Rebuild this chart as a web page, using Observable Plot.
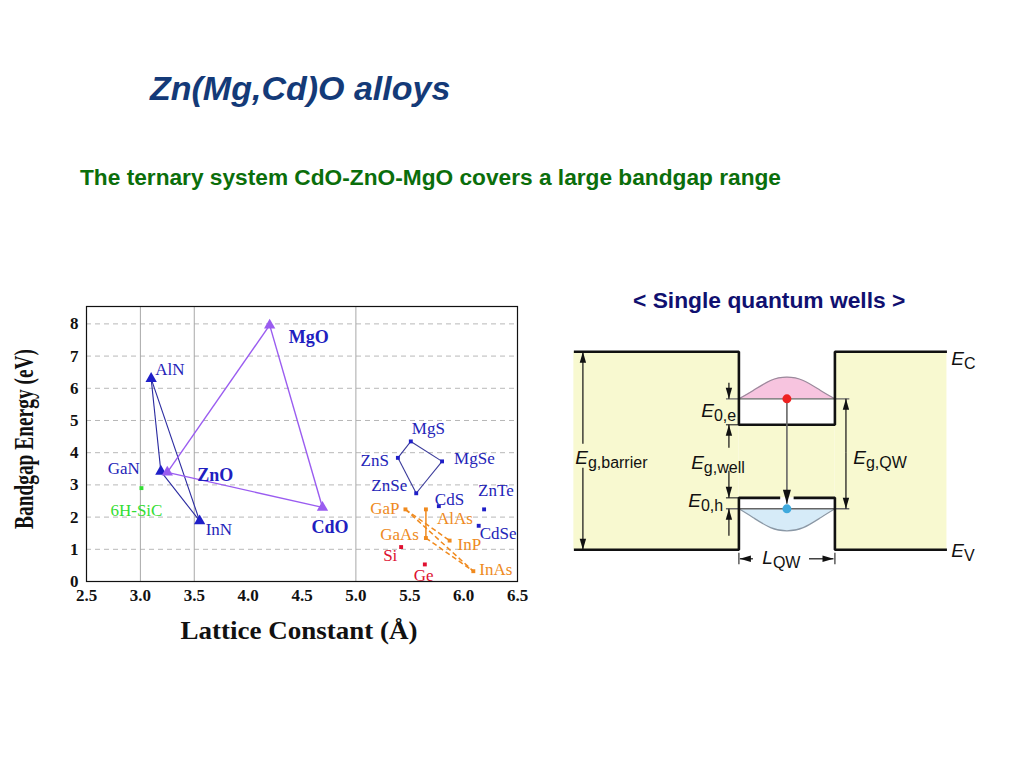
<!DOCTYPE html>
<html><head><meta charset="utf-8">
<script src="https://cdn.jsdelivr.net/npm/d3@7"></script>
<script src="https://cdn.jsdelivr.net/npm/@observablehq/plot@0.6"></script>
<style>
body{margin:0;background:#fff;width:1024px;height:768px;position:relative;overflow:hidden;font-family:"Liberation Sans",Arial,sans-serif}
.abs{position:absolute;white-space:nowrap;line-height:1}
#title{left:150px;top:71px;font-size:34px;font-weight:bold;font-style:italic;color:#143a78}
#subtitle{left:80px;top:166px;font-size:22.7px;font-weight:bold;color:#0b6e0b}
#qwtitle{left:633px;top:288.5px;font-size:22.8px;font-weight:bold;color:#101070}
#chart{left:0;top:290px}
#qw{left:556px;top:322px}
svg{overflow:visible}
</style></head><body>
<div class="abs" id="title">Zn(Mg,Cd)O alloys</div>
<div class="abs" id="subtitle">The ternary system CdO-ZnO-MgO covers a large bandgap range</div>
<div class="abs" id="qwtitle">&lt; Single quantum wells &gt;</div>
<div class="abs" id="chart"></div>
<div class="abs" id="qw"></div>
<script>
// ---------- Bandgap vs lattice constant data ----------
const materials = ["AlN","GaN","InN","ZnO","MgO","CdO","6H-SiC","MgS","ZnS","MgSe","ZnSe","CdS","ZnTe","CdSe","GaP","AlAs","GaAs","InP","InAs","Si","Ge"];
const latticeConstant = [3.10,3.19,3.55,3.25,4.20,4.69,3.01,5.51,5.39,5.80,5.56,5.77,6.19,6.14,5.46,5.65,5.65,5.87,6.09,5.42,5.64];
const bandgap = [6.30,3.42,1.88,3.39,7.96,2.30,2.90,4.35,3.84,3.73,2.74,2.34,2.24,1.73,2.24,2.24,1.35,1.27,0.32,1.07,0.53];
const family = ["nitride","nitride","nitride","oxide","oxide","oxide","SiC","II-VI","II-VI","II-VI","II-VI","II-VI","II-VI","II-VI","III-V","III-V","III-V","III-V","III-V","IV","IV"];
const xTicks = [2.5,3.0,3.5,4.0,4.5,5.0,5.5,6.0,6.5];
const yTicks = [0,1,2,3,4,5,6,7,8];
const xTitle = "Lattice Constant (Å)";
const yTitle = "Bandgap Energy (eV)";

const nitrideEdges = [["AlN","GaN"],["GaN","InN"],["InN","AlN"]];
const oxideEdges = [["ZnO","MgO"],["MgO","CdO"],["CdO","ZnO"]];
const chalcogenideEdges = [["ZnS","MgS"],["MgS","MgSe"],["MgSe","ZnSe"],["ZnSe","ZnS"]];
const arsenideSolidEdges = [["AlAs","GaAs"]];
const iiiVDashedEdges = [["GaP","InP"],["GaP","InAs"],["GaAs","InAs"]];

// styles
const familyStyle = {
  "nitride": {color:"#1f1fc8", text:"#2424b8", symbol:"triangle", r:4.2},
  "oxide":   {color:"#9a5cf0", text:"#2020c0", symbol:"triangle", r:4.2},
  "SiC":     {color:"#33dd33", text:"#33dd33", symbol:"square", r:2.2},
  "II-VI":   {color:"#1f1fc8", text:"#2424b8", symbol:"square", r:2.2},
  "III-V":   {color:"#f08a1e", text:"#ee8a22", symbol:"square", r:2.2},
  "IV":      {color:"#e01030", text:"#dd1030", symbol:"square", r:2.2}
};
const labelPlacement = {
  "AlN":[4,-9,"start"], "GaN":[-21,-3,"end"], "ZnO":[30,3,"start"], "InN":[6,9,"start"],
  "6H-SiC":[-31,22,"start"], "MgO":[19,12,"start"], "CdO":[-11,20,"start"],
  "MgS":[1,-13,"start"], "ZnS":[-9,3,"end"], "MgSe":[12,-3,"start"], "ZnSe":[-9,-8,"end"],
  "CdS":[-4,-7,"start"], "ZnTe":[-6,-19,"start"], "CdSe":[1,8,"start"],
  "GaP":[-6,-1,"end"], "AlAs":[11,9,"start"], "GaAs":[-7,-3,"end"], "InP":[8,4,"start"],
  "InAs":[6,-2,"start"], "Si":[-18,9,"start"], "Ge":[-11,11,"start"]
};
const boldLabels = ["ZnO","MgO","CdO"];

const mats = materials.map((name,i)=>({name, lc:latticeConstant[i], eg:bandgap[i], fam:family[i]}));
const byName = Object.fromEntries(mats.map(d=>[d.name,d]));
const edgeMark = (edges, opts) => Plot.link(edges, {
  x1: e=>byName[e[0]].lc, y1: e=>byName[e[0]].eg,
  x2: e=>byName[e[1]].lc, y2: e=>byName[e[1]].eg, ...opts});

const serif = "Liberation Serif, Times New Roman, serif";
const chart = Plot.plot({
  width: 540, height: 370,
  marginLeft: 86, marginRight: 23, marginTop: 16, marginBottom: 79,
  style: {fontFamily: serif, background: "transparent"},
  x: {domain: [2.5, 6.5]},
  y: {domain: [0, 8.54]},
  marks: [
    Plot.gridY(yTicks.filter(v=>v>0), {stroke:"#b8b8b8", strokeOpacity:1, strokeDasharray:"5,4"}),
    Plot.ruleX([3.0, 3.5, 5.0], {stroke:"#a8a8a8", strokeWidth:1}),
    edgeMark(nitrideEdges, {stroke:"#2a2aa0", strokeWidth:1.1}),
    edgeMark(oxideEdges, {stroke:"#9a5cf0", strokeWidth:1.4}),
    edgeMark(chalcogenideEdges, {stroke:"#3a3a9a", strokeWidth:1.1}),
    edgeMark(arsenideSolidEdges, {stroke:"#f08a1e", strokeWidth:1.5}),
    edgeMark(iiiVDashedEdges, {stroke:"#f08a1e", strokeWidth:1.5, strokeDasharray:"5,3"}),
    ...Object.keys(familyStyle).map(f => Plot.dot(mats.filter(d=>d.fam===f), {
      x:"lc", y:"eg", symbol: familyStyle[f].symbol, r: familyStyle[f].r,
      fill: familyStyle[f].color, stroke: "none"})),
    ...mats.map(d => {
      const [dx,dy,anchor] = labelPlacement[d.name];
      const bold = boldLabels.includes(d.name);
      return Plot.text([d], {x:"lc", y:"eg", text:"name", dx, dy, textAnchor:anchor,
        fill: familyStyle[d.fam].text, fontSize: bold ? 18 : 17, fontWeight: bold ? "bold" : "normal",
        fontFamily: serif});
    }),
    Plot.axisX(xTicks, {tickSize:0, tickPadding:7, tickFormat: d3.format(".1f"), fontSize:17, fontWeight:"bold", fill:"#111", label:null}),
    Plot.axisY(yTicks, {tickSize:0, tickPadding:8, tickFormat: d3.format("d"), fontSize:17, fontWeight:"bold", fill:"#111", label:null}),
    Plot.frame({stroke:"#111", strokeWidth:1.2}),
    Plot.text([xTitle], {frameAnchor:"bottom", textAnchor:"middle", dx:-3, dy:57, fontSize:25, fontWeight:"bold", fill:"#111"}),
    Plot.text([yTitle], {frameAnchor:"left", textAnchor:"middle", dx:-62, dy:-5, rotate:-90, fontSize:27, fontWeight:"bold", fill:"#111"})
  ]
});
d3.select(chart).selectAll("text").filter(function(){ return this.textContent === xTitle; })
  .attr("textLength", 237).attr("lengthAdjust","spacingAndGlyphs");
d3.select(chart).selectAll("text").filter(function(){ return this.textContent === yTitle; })
  .attr("textLength", 180).attr("lengthAdjust","spacingAndGlyphs");
document.getElementById("chart").appendChild(chart);

// ---------- Single quantum well schematic (schematic units) ----------
const structureX = [-17.19, 0, 10, 21.67];         // barrier left, well left, well right, barrier right
const bandEnergy = [0, 5.25, 12.63, 20];           // Ev(barrier), Ev(well), Ec(well), Ec(barrier)
const confinedLevel = [15.25, 4.14];               // E0,e  E0,h
const psiX = [0, 1.5, 3.3, 5, 6.7, 8.5, 10];
const psiElectron = [0, 0.84, 1.85, 2.19, 1.85, 0.84, 0];
const psiHole = [0, 0.9, 1.9, 2.22, 1.9, 0.9, 0];
const transitionX = 5;

const [xb0, xw0, xw1, xb1] = structureX;
const [Evb, Evw, Ecw, Ecb] = bandEnergy;
const [E0e, E0h] = confinedLevel;

const gapRects = [
  {x1:xb0, x2:xw0, y1:Evb, y2:Ecb},
  {x1:xw0, x2:xw1, y1:Evw, y2:Ecw},
  {x1:xw1, x2:xb1, y1:Evb, y2:Ecb}
];
const bandPath = [
  ...[[xb0,Ecb],[xw0,Ecb],[xw0,Ecw],[xw1,Ecw],[xw1,Ecb],[xb1,Ecb]].map(p=>({x:p[0],y:p[1],z:"cb"})),
  ...[[xb0,Evb],[xw0,Evb],[xw0,Evw],[4.3,Evw]].map(p=>({x:p[0],y:p[1],z:"vb1"})),
  ...[[5.7,Evw],[xw1,Evw],[xw1,Evb],[xb1,Evb]].map(p=>({x:p[0],y:p[1],z:"vb2"}))
];
const electronWave = psiX.map((x,i)=>({x, y1:E0e, y2:E0e+psiElectron[i]}));
const holeWave = psiX.map((x,i)=>({x, y1:E0h, y2:E0h-psiHole[i]}));

const arrowX = -1.04, qwArrowX = 11.15, barrierArrowX = -16.25, lqwY = -0.91;
const dimArrows = [
  {x1:arrowX, y1:16.87, x2:arrowX, y2:E0e},
  {x1:arrowX, y1:10.30, x2:arrowX, y2:Ecw},
  {x1:arrowX, y1:7.98, x2:arrowX, y2:Evw},
  {x1:arrowX, y1:1.41, x2:arrowX, y2:E0h},
  {x1:barrierArrowX, y1:10.71, x2:barrierArrowX, y2:Ecb},
  {x1:barrierArrowX, y1:8.28, x2:barrierArrowX, y2:Evb},
  {x1:qwArrowX, y1:9.8, x2:qwArrowX, y2:E0e},
  {x1:qwArrowX, y1:9.8, x2:qwArrowX, y2:E0h},
  {x1:1.46, y1:lqwY, x2:0.1, y2:lqwY},
  {x1:7.3, y1:lqwY, x2:9.85, y2:lqwY}
];
const transitionArrow = [{x1:transitionX, y1:E0e, x2:transitionX, y2:4.65}];
const headRotate = a => a.x1 === a.x2 ? (a.y2 > a.y1 ? 0 : 180) : (a.x2 > a.x1 ? 90 : -90);

const tickLines = [
  {x1:-1.35, x2:xw0, y1:Ecw, y2:Ecw},
  {x1:-1.35, x2:xw0, y1:Evw, y2:Evw},
  {x1:xw0, x2:xw0, y1:-0.3, y2:-1.45},
  {x1:xw1, x2:xw1, y1:-0.3, y2:-1.45}
];
const levelLines = [
  {x1:-1.35, x2:11.5, y1:E0e, y2:E0e},
  {x1:-1.35, x2:11.5, y1:E0h, y2:E0h}
];
const energyLabels = [
  {main:"E", sub:"g,barrier", x:-15.73, y:9.32},
  {main:"E", sub:"0,e", x:-2.6, y:14.0},
  {main:"E", sub:"g,well", x:-3.65, y:8.8},
  {main:"E", sub:"0,h", x:-3.96, y:4.95},
  {main:"E", sub:"g,QW", x:13.23, y:9.32},
  {main:"E", sub:"C", x:23.44, y:19.29},
  {main:"E", sub:"V", x:23.44, y:-0.1},
  {main:"L", sub:"QW", x:3.54, y:-0.81}
];

const sans = "Liberation Sans, Arial, sans-serif";
const qw = Plot.plot({
  width: 442, height: 257,
  margin: 0,
  style: {fontFamily: sans, background: "transparent"},
  x: {domain: [-19, 27.04], axis: null},
  y: {domain: [-3, 22.96], axis: null},
  marks: [
    Plot.rect(gapRects, {x1:"x1", x2:"x2", y1:"y1", y2:"y2", fill:"#f8f9d0", inset:0}),
    Plot.areaY(electronWave, {x:"x", y1:"y1", y2:"y2", fill:"#f7c4df", curve:"natural"}),
    Plot.line(electronWave, {x:"x", y:"y2", stroke:"#9a8a9c", strokeWidth:1.2, curve:"natural"}),
    Plot.areaY(holeWave, {x:"x", y1:"y1", y2:"y2", fill:"#d6ebf8", curve:"natural"}),
    Plot.line(holeWave, {x:"x", y:"y2", stroke:"#8a98a6", strokeWidth:1.2, curve:"natural"}),
    Plot.link(levelLines, {x1:"x1", x2:"x2", y1:"y1", y2:"y2", stroke:"#666", strokeWidth:1.4}),
    Plot.link(tickLines, {x1:"x1", x2:"x2", y1:"y1", y2:"y2", stroke:"#333", strokeWidth:1.2}),
    Plot.line(bandPath, {x:"x", y:"y", z:"z", stroke:"#111", strokeWidth:2.6, strokeLinejoin:"miter", strokeLinecap:"butt"}),
    // transition arrow: grey shaft, black head
    Plot.link(transitionArrow, {x1:"x1", y1:"y1", x2:"x2", y2:"y2", stroke:"#666", strokeWidth:1.6}),
    Plot.vector(transitionArrow, {x:"x2", y:"y2", rotate:headRotate, length:14, r:4, shape:"spike", anchor:"end", fill:"#111", stroke:"none"}),
    // dimension arrows
    Plot.link(dimArrows, {x1:"x1", y1:"y1", x2:"x2", y2:"y2", stroke:"#111", strokeWidth:1.2}),
    Plot.vector(dimArrows, {x:"x2", y:"y2", rotate:headRotate, length:11, r:3.2, shape:"spike", anchor:"end", fill:"#111", stroke:"none"}),
    Plot.dot([{x:transitionX, y:E0e}], {x:"x", y:"y", r:4.5, fill:"#ee2222"}),
    Plot.dot([{x:transitionX, y:E0h}], {x:"x", y:"y", r:4.5, fill:"#3fa9dd"}),
    Plot.text(energyLabels, {x:"x", y:"y", text:"main", textAnchor:"end", fontSize:19, fontStyle:"italic", fill:"#111"}),
    Plot.text(energyLabels, {x:"x", y:"y", text:"sub", textAnchor:"start", dy:5, fontSize:16, fill:"#111"})
  ]
});
document.getElementById("qw").appendChild(qw);
</script>
</body></html>
